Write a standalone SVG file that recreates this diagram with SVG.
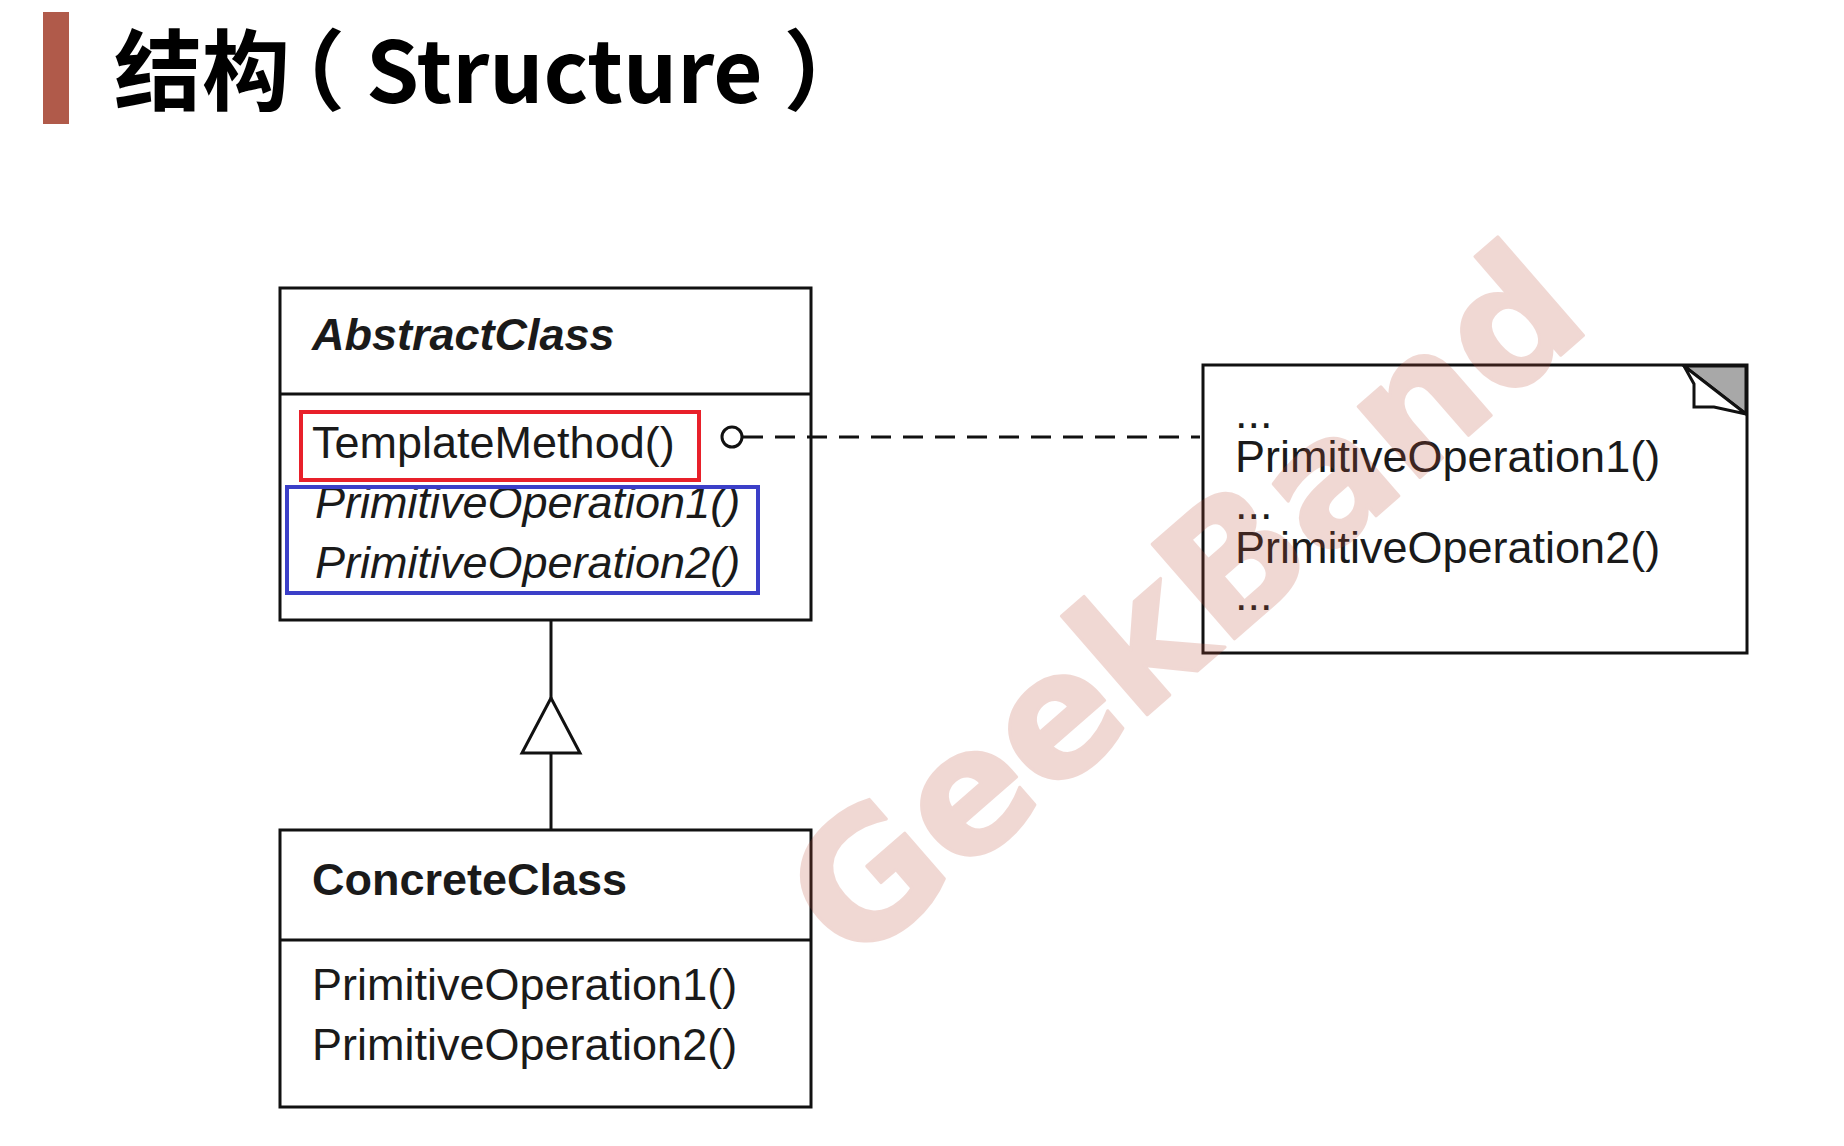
<svg xmlns="http://www.w3.org/2000/svg" width="1844" height="1146" viewBox="0 0 1844 1146">
  <style>
    .box { fill: #ffffff; stroke: #111111; stroke-width: 3; }
    .line { fill: none; stroke: #111111; stroke-width: 3; }
    .t { font-family: "Liberation Sans", Arial, sans-serif; font-size: 45px; fill: #1a1a1a; }
    .it { font-style: italic; }
    .bd { font-weight: bold; }
    .title { font-family: "Noto Sans CJK SC", "Liberation Sans", sans-serif; font-size: 88px; font-weight: bold; fill: #000000; }
    .par { font-feature-settings: "halt" 1; }
    .wm { font-family: "DejaVu Sans", Verdana, sans-serif; font-size: 172px; font-weight: bold; fill: #c0503c; stroke: #c0503c; stroke-width: 3; stroke-linejoin: round; }
  </style>
  <rect width="1844" height="1146" fill="#ffffff"/>

  <g id="title">
    <rect x="43" y="12" width="26" height="112" fill="#b05a4a"/>
    <text class="title" x="114" y="103">结构<tspan class="par" dx="11">（</tspan><tspan dx="21" font-size="85">Structure</tspan><tspan class="par" dx="21">）</tspan></text>
  </g>

  <g id="AbstractClass">
    <rect class="box" x="280" y="288" width="531" height="332"/>
    <line class="line" x1="280" y1="394" x2="811" y2="394"/>
    <text class="t it bd" x="312" y="350">AbstractClass</text>
    <text class="t" x="312" y="458">TemplateMethod()</text>
    <text class="t it" x="315" y="518">PrimitiveOperation1()</text>
    <text class="t it" x="315" y="578">PrimitiveOperation2()</text>
    <rect x="301" y="412" width="398" height="68" fill="none" stroke="#e8202a" stroke-width="4"/>
    <rect x="287" y="487" width="471" height="106" fill="none" stroke="#3b3fc8" stroke-width="4"/>
  </g>

  <g id="ConcreteClass">
    <rect class="box" x="280" y="830" width="531" height="277"/>
    <line class="line" x1="280" y1="940" x2="811" y2="940"/>
    <text class="t bd" x="312" y="895">ConcreteClass</text>
    <text class="t" x="312" y="1000">PrimitiveOperation1()</text>
    <text class="t" x="312" y="1060">PrimitiveOperation2()</text>
  </g>

  <g id="Note">
    <rect class="box" x="1203" y="365" width="544" height="288"/>
    <polygon points="1684,366 1746,366 1746,414" fill="#a8a8a8" stroke="#111111" stroke-width="3" stroke-linejoin="miter"/>
    <polygon points="1684,366 1694,384 1694,407 1714,407 1746,414" fill="#ffffff" stroke="#111111" stroke-width="3"/>
    <text class="t" x="1235" y="428">...</text>
    <text class="t" x="1235" y="472">PrimitiveOperation1()</text>
    <text class="t" x="1235" y="519">...</text>
    <text class="t" x="1235" y="563">PrimitiveOperation2()</text>
    <text class="t" x="1235" y="610">...</text>
  </g>

  <g id="connectors">
    <line class="line" x1="551" y1="620" x2="551" y2="698"/>
    <polygon class="box" points="551,698 522,753 580,753"/>
    <line class="line" x1="551" y1="753" x2="551" y2="830"/>
    <line class="line" x1="743" y1="437" x2="1200" y2="437" stroke-dasharray="20 12"/>
    <circle class="box" cx="732" cy="437" r="10"/>
  </g>

  <g id="watermark" opacity="0.22">
    <text class="wm" text-anchor="middle" transform="translate(1224,648) rotate(-41)">GeekBand</text>
  </g>
</svg>
